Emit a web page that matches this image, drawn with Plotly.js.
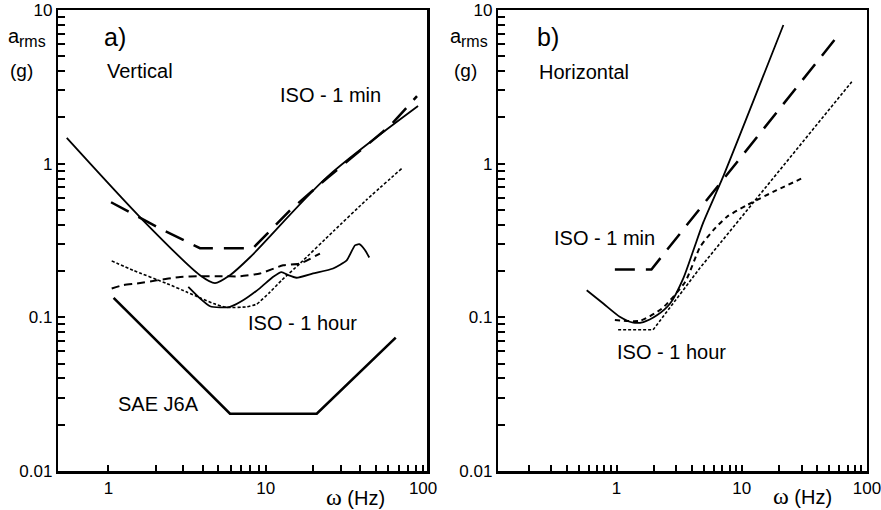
<!DOCTYPE html>
<html><head><meta charset="utf-8">
<script src="https://cdn.plot.ly/plotly-3.0.1.min.js"></script>
<style>html,body{margin:0;padding:0;background:#fff;}#chart{width:881px;height:510px;}</style>
</head><body><div id="chart"></div>
<script>
// ---------- Panel a) Vertical ----------
const vFreqSolid = [0.544, 1.66, 3.82, 4.76, 5.93, 7.95, 24.5, 92.9];
const vAccSolid  = [1.47, 0.428, 0.188, 0.167, 0.188, 0.246, 0.817, 2.37];
const vFreqIso1min = [1.04, 2.23, 3.82, 8.3, 14.3, 24.5, 61.6, 91.5];
const vAccIso1min  = [0.561, 0.369, 0.282, 0.282, 0.498, 0.804, 1.76, 2.75];
const vFreqIso1h = [1.05, 1.44, 2.35, 3.15, 3.82, 4.65, 5.65, 7.57, 8.77, 10.65, 12.6, 16.5, 26.9, 43.4, 73.1];
const vAccIso1h  = [0.233, 0.202, 0.166, 0.146, 0.134, 0.123, 0.116, 0.117, 0.122, 0.146, 0.174, 0.224, 0.363, 0.578, 0.93];
const vFreqDash = [1.05, 1.24, 1.52, 2.03, 2.86, 3.82, 5.13, 6.87, 9.2, 12.9, 16.5, 22.1];
const vAccDash  = [0.154, 0.162, 0.166, 0.174, 0.183, 0.185, 0.185, 0.185, 0.193, 0.218, 0.224, 0.26];
const vFreqMeas = [3.22, 3.82, 4.43, 5.13, 5.93, 7.18, 9.2, 11.1, 12.6, 13.9, 15.7, 20, 26.8, 32.7, 36.9, 39.3, 42.8, 45.5];
const vAccMeas  = [0.158, 0.133, 0.118, 0.116, 0.117, 0.129, 0.155, 0.183, 0.197, 0.188, 0.181, 0.193, 0.208, 0.235, 0.294, 0.299, 0.273, 0.245];
const vFreqSae = [1.08, 5.93, 21.1, 67];
const vAccSae  = [0.134, 0.0236, 0.0236, 0.0738];

// ---------- Panel b) Horizontal ----------
const hFreqSolid = [0.578, 0.784, 1.07, 1.36, 1.64, 2.1, 2.68, 3.42, 4.11, 4.94, 7.13, 12.1, 21.5];
const hAccSolid  = [0.15, 0.123, 0.1005, 0.0923, 0.0932, 0.103, 0.123, 0.18, 0.273, 0.416, 0.829, 2.44, 7.99];
const hFreqIso1min = [0.97, 1.9, 59.1];
const hAccIso1min  = [0.205, 0.205, 6.87];
const hFreqDash = [0.97, 1.54, 2.3, 3.53, 4.65, 5.93, 7.59, 11.0, 19.0, 32.0];
const hAccDash  = [0.096, 0.095, 0.114, 0.17, 0.287, 0.369, 0.45, 0.537, 0.672, 0.82];
const hFreqIso1h = [1.03, 1.96, 4.65, 75.6];
const hAccIso1h  = [0.083, 0.083, 0.21, 3.41];

// ---------- Ticks ----------
const yTickVals = [0.01,0.02,0.03,0.04,0.05,0.06,0.07,0.08,0.09,0.1,0.2,0.3,0.4,0.5,0.6,0.7,0.8,0.9,1,2,3,4,5,6,7,8,9,10];
const yTickText = ['0.01','','','','','','','','','0.1','','','','','','','','','1','','','','','','','','','10'];
const xTickValsA = [1,2,3,4,5,6,7,8,9,10,20,30,40,50,60,70,80,90,100];
const xTickTextA = ['1','','','','','','','','','10','','','','','','','','','100'];
const xTickValsB = [0.2,0.3,0.4,0.5,0.6,0.7,0.8,0.9,1,2,3,4,5,6,7,8,9,10,20,30,40,50,60,70,80,90,100];
const xTickTextB = ['','','','','','','','','1','','','','','','','','','10','','','','','','','','','100'];

const FONT = 'Liberation Sans, Arial, Helvetica, sans-serif';

function tr(x, y, xa, ya, width, dash, shape, smooth) {
  return {x: x, y: y, xaxis: xa, yaxis: ya, type: 'scatter', mode: 'lines',
    line: {color: '#000', width: width, dash: dash, shape: shape || 'linear', smoothing: smooth || 0.8},
    hoverinfo: 'skip'};
}

const data = [
  tr(vFreqSolid, vAccSolid, 'x', 'y', 1.8, 'solid', 'spline', 0.8),
  tr(vFreqIso1min, vAccIso1min, 'x', 'y', 2.5, '20px,11px', 'linear'),
  tr(vFreqIso1h, vAccIso1h, 'x', 'y', 1.6, '3px,2px', 'spline', 0.45),
  tr(vFreqDash, vAccDash, 'x', 'y', 2.0, '8px,5px', 'spline', 0.5),
  tr(vFreqMeas, vAccMeas, 'x', 'y', 1.8, 'solid', 'spline', 0.5),
  tr(vFreqSae, vAccSae, 'x', 'y', 2.6, 'solid', 'linear'),
  tr(hFreqSolid, hAccSolid, 'x2', 'y2', 1.8, 'solid', 'spline', 0.7),
  tr(hFreqIso1min, hAccIso1min, 'x2', 'y2', 2.5, '20px,11px', 'linear'),
  tr(hFreqDash, hAccDash, 'x2', 'y2', 2.0, '5px,4px', 'spline', 0.6),
  tr(hFreqIso1h, hAccIso1h, 'x2', 'y2', 1.6, '3px,2px', 'linear')
];

const axBase = {type: 'log', showgrid: false, zeroline: false, showline: true, linecolor: '#000',
  linewidth: 2.5, mirror: true, ticks: 'inside', tickwidth: 2, tickcolor: '#000',
  tickfont: {family: FONT, size: 17, color: '#000'}, tickmode: 'array', fixedrange: true,
  ticklabeloverflow: 'allow'};

function ann(text, px, py, size, anchor) {
  return {text: text, xref: 'paper', yref: 'paper', x: px / 881, y: (471 - py) / 461,
    xanchor: anchor || 'center', yanchor: 'middle', showarrow: false,
    font: {family: FONT, size: size, color: '#000'}};
}

const omega = '<span style="font-family:Liberation Serif;font-size:24px">ω</span> (Hz)';

const layout = {
  width: 881, height: 510,
  margin: {l: 0, r: 0, t: 10, b: 39},
  paper_bgcolor: '#fff', plot_bgcolor: '#fff', showlegend: false,
  xaxis: Object.assign({}, axBase, {domain: [0.0662, 0.4847], range: [-0.318, 2.025], anchor: 'y',
    tickvals: xTickValsA, ticktext: xTickTextA, ticklen: 6}),
  yaxis: Object.assign({}, axBase, {domain: [0, 1], range: [-2, 1], anchor: 'x',
    tickvals: yTickVals, ticktext: yTickText, ticklen: 7}),
  xaxis2: Object.assign({}, axBase, {domain: [0.5656, 0.9841], range: [-0.944, 2.0], anchor: 'y2',
    tickvals: xTickValsB, ticktext: xTickTextB, ticklen: 6}),
  yaxis2: Object.assign({}, axBase, {domain: [0, 1], range: [-2, 1], anchor: 'x2',
    tickvals: yTickVals, ticktext: yTickText, ticklen: 7}),
  annotations: [
    ann('a', 6, 36, 20, 'left'),
    ann('rms', 17, 42, 16, 'left'),
    ann('(g)', 21.5, 70, 19),
    ann('a)', 115, 37, 25),
    ann('Vertical', 140, 71, 20),
    ann('ISO - 1 min', 330, 95, 20),
    ann('ISO - 1 hour', 302, 323, 20),
    ann('SAE J6A', 158, 404, 20),
    ann(omega, 355, 497, 20),
    ann('a', 448, 36, 20, 'left'),
    ann('rms', 459, 42, 16, 'left'),
    ann('(g)', 465, 70, 19),
    ann('b)', 548, 37, 25),
    ann('Horizontal', 584, 72, 20),
    ann('ISO - 1 min', 604, 238, 20),
    ann('ISO - 1 hour', 671, 352, 20),
    ann(omega, 802, 496, 20)
  ]
};

Plotly.newPlot('chart', data, layout, {staticPlot: true, displayModeBar: false});
</script>
</body></html>
